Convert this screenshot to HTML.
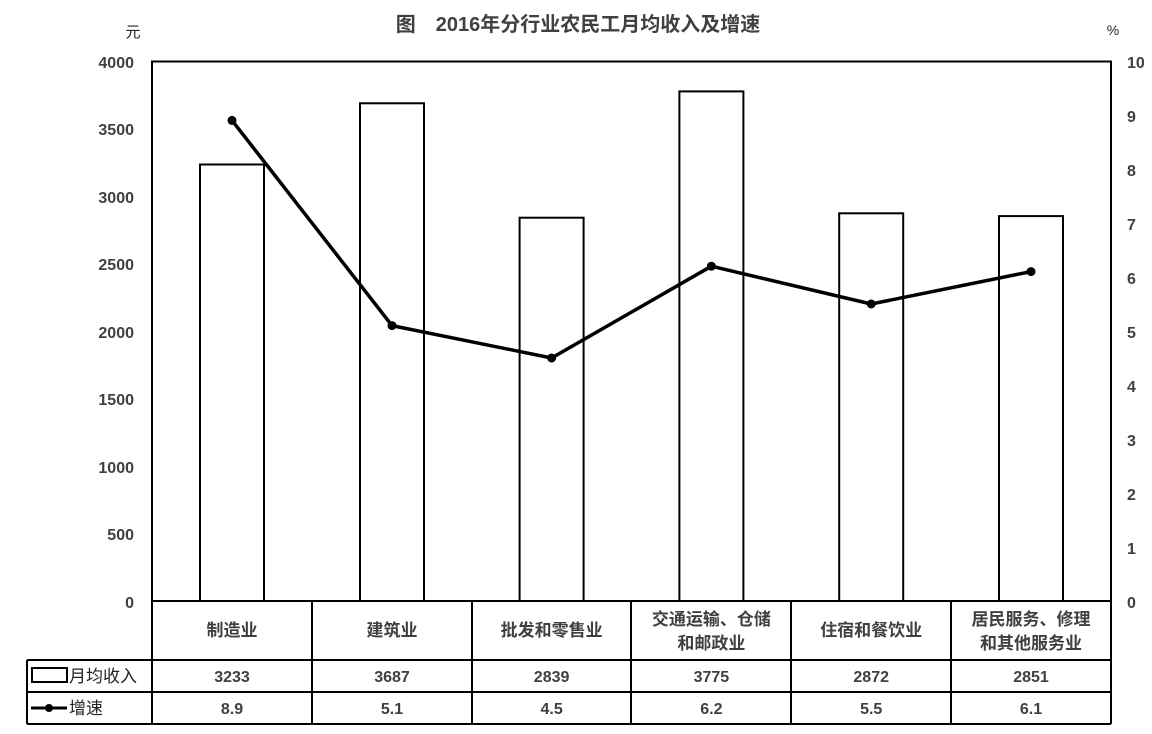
<!DOCTYPE html>
<html><head><meta charset="utf-8"><style>
html,body{margin:0;padding:0;background:#fff;}
text{font-family:"Liberation Sans","Noto Sans CJK SC",sans-serif;}
</style></head><body>
<svg width="1152" height="729" viewBox="0 0 1152 729" xmlns="http://www.w3.org/2000/svg">
<rect width="1152" height="729" fill="#fff"/>
<text x="578" y="31" font-size="20" font-weight="bold" fill="#404040" text-anchor="middle">图　2016年分行业农民工月均收入及增速</text>
<text x="133" y="37" font-size="15" fill="#222" text-anchor="middle">元</text>
<text x="1113" y="35" font-size="14" fill="#222" text-anchor="middle">%</text>
<g font-size="16" font-weight="bold" fill="#404040" text-anchor="end">
<text x="134" y="68">4000</text><text x="134" y="135">3500</text><text x="134" y="203">3000</text>
<text x="134" y="270">2500</text><text x="134" y="338">2000</text><text x="134" y="405">1500</text>
<text x="134" y="473">1000</text><text x="134" y="540">500</text><text x="134" y="608">0</text>
</g>
<g font-size="16" font-weight="bold" fill="#404040" text-anchor="start">
<text x="1127" y="68">10</text><text x="1127" y="122">9</text><text x="1127" y="176">8</text>
<text x="1127" y="230">7</text><text x="1127" y="284">6</text><text x="1127" y="338">5</text>
<text x="1127" y="392">4</text><text x="1127" y="446">3</text><text x="1127" y="500">2</text>
<text x="1127" y="554">1</text><text x="1127" y="608">0</text>
</g>
<g fill="#fff" stroke="#000" stroke-width="2">
<rect x="200" y="164.5" width="64" height="436.5"/>
<rect x="360" y="103.3" width="64" height="497.7"/>
<rect x="519.6" y="217.7" width="64" height="383.3"/>
<rect x="679.4" y="91.4" width="64" height="509.6"/>
<rect x="839.2" y="213.3" width="64" height="387.7"/>
<rect x="999" y="216.1" width="64" height="384.9"/>
</g>
<rect x="152" y="61.5" width="959" height="539.5" fill="none" stroke="#000" stroke-width="2"/>
<polyline points="232,120.4 392,325.6 551.6,358 711.4,266.2 871.2,304 1031,271.6" fill="none" stroke="#000" stroke-width="3.5" stroke-linejoin="round"/>
<g fill="#000">
<circle cx="232" cy="120.4" r="4.5"/><circle cx="392" cy="325.6" r="4.5"/><circle cx="551.6" cy="358" r="4.5"/>
<circle cx="711.4" cy="266.2" r="4.5"/><circle cx="871.2" cy="304" r="4.5"/><circle cx="1031" cy="271.6" r="4.5"/>
</g>
<g stroke="#000" stroke-width="2" fill="none">
<line x1="152" y1="601" x2="152" y2="724"/>
<line x1="312" y1="601" x2="312" y2="724"/>
<line x1="472" y1="601" x2="472" y2="724"/>
<line x1="631" y1="601" x2="631" y2="724"/>
<line x1="791" y1="601" x2="791" y2="724"/>
<line x1="951" y1="601" x2="951" y2="724"/>
<line x1="1111" y1="601" x2="1111" y2="724"/>
<line x1="27" y1="660" x2="1111" y2="660"/>
<line x1="27" y1="692" x2="1111" y2="692"/>
<line x1="27" y1="724" x2="1111" y2="724"/>
<line x1="27" y1="660" x2="27" y2="724"/>
</g>
<g font-size="17" font-weight="bold" fill="#404040" text-anchor="middle">
<text x="232" y="636">制造业</text>
<text x="392" y="636">建筑业</text>
<text x="551.6" y="636">批发和零售业</text>
<text x="711.4" y="625">交通运输、仓储</text>
<text x="711.4" y="649">和邮政业</text>
<text x="871.2" y="636">住宿和餐饮业</text>
<text x="1031" y="625">居民服务、修理</text>
<text x="1031" y="649">和其他服务业</text>
</g>
<g font-size="16" font-weight="bold" fill="#404040" text-anchor="middle">
<text x="232" y="682">3233</text><text x="392" y="682">3687</text><text x="551.6" y="682">2839</text>
<text x="711.4" y="682">3775</text><text x="871.2" y="682">2872</text><text x="1031" y="682">2851</text>
<text x="232" y="714">8.9</text><text x="392" y="714">5.1</text><text x="551.6" y="714">4.5</text>
<text x="711.4" y="714">6.2</text><text x="871.2" y="714">5.5</text><text x="1031" y="714">6.1</text>
</g>
<rect x="32" y="668" width="35" height="14" fill="#fff" stroke="#000" stroke-width="2"/>
<text x="69" y="682" font-size="17" fill="#222">月均收入</text>
<line x1="31" y1="708" x2="67" y2="708" stroke="#000" stroke-width="3"/>
<circle cx="49" cy="708" r="4" fill="#000"/>
<text x="69" y="714" font-size="17" fill="#222">增速</text>
</svg>
</body></html>
